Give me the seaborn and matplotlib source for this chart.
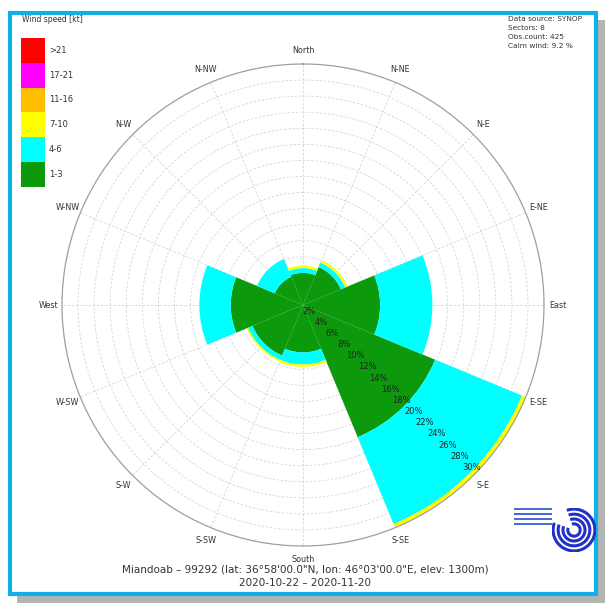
import numpy as np
import pandas as pd
import matplotlib
matplotlib.use("Agg")
import matplotlib.pyplot as plt
from matplotlib.patches import Rectangle, Arc
import seaborn as sns

# ---- data ----
directions = ["N", "NE", "E", "SE", "S", "SW", "W", "NW"]
dir_angles = [0, 45, 90, 135, 180, 225, 270, 315]
speed_labels = ["1-3", "4-6", "7-10", "11-16", "17-21", ">21"]
speed_colors = ["#0c990c", "#00ffff", "#ffff00", "#ffbf00", "#ff00ff", "#ff0000"]
s_1_3 = [4.0, 5.1, 9.6, 17.8, 5.9, 6.8, 9.0, 3.8]
s_4_6 = [0.6, 0.6, 6.5, 11.7, 1.5, 0.6, 3.9, 2.4]
s_7_10 = [0.3, 0.3, 0.0, 0.5, 0.3, 0.2, 0.0, 0.0]
s_11_16 = [0, 0, 0, 0, 0, 0, 0, 0]
s_17_21 = [0, 0, 0, 0, 0, 0, 0, 0]
s_gt21 = [0, 0, 0, 0, 0, 0, 0, 0]
compass_labels = ["North", "N-NE", "N-E", "E-NE", "East", "E-SE", "S-E", "S-SE",
                  "South", "S-SW", "S-W", "W-SW", "West", "W-NW", "N-W", "N-NW"]
radial_ticks = [2, 4, 6, 8, 10, 12, 14, 16, 18, 20, 22, 24, 26, 28, 30]
info_lines = ["Data source: SYNOP", "Sectors: 8", "Obs.count: 425", "Calm wind: 9.2 %"]
station_line = "Miandoab \u2013 99292 (lat: 36\u00b058'00.0\"N, lon: 46\u00b003'00.0\"E, elev: 1300m)"
period_line = "2020-10-22 \u2013 2020-11-20"

df = pd.DataFrame({"dir": directions, "angle": dir_angles,
                   speed_labels[0]: s_1_3, speed_labels[1]: s_4_6, speed_labels[2]: s_7_10,
                   speed_labels[3]: s_11_16, speed_labels[4]: s_17_21, speed_labels[5]: s_gt21})

sns.set_style("white")
plt.rcParams['font.family'] = ['DejaVu Sans']

W, H = 605, 603
fig = plt.figure(figsize=(W / 100, H / 100), dpi=100)
fig.patch.set_facecolor("white")

def fx(px):
    return px / W

def fy(py):
    return 1 - py / H

# frame with shadow
fig.patches.append(Rectangle((fx(17), fy(603)), fx(605) - fx(17), fy(20) - fy(603),
                             transform=fig.transFigure, facecolor="#b4b4b4", edgecolor="none", zorder=-3))
fig.patches.append(Rectangle((fx(10), fy(594)), fx(596) - fx(10), fy(13) - fy(594),
                             transform=fig.transFigure, facecolor="white", edgecolor="#14aee6",
                             linewidth=3.0, zorder=-2))

# polar axes
cx, cy, R = 303, 305, 241
ax = fig.add_axes([fx(cx - R), fy(cy + R), 2 * R / W, 2 * R / H], projection="polar")
ax.set_zorder(1)
ax.set_theta_zero_location("N")
ax.set_theta_direction(-1)
ax.set_ylim(0, 30)
ax.set_facecolor("none")

width = np.deg2rad(45)
theta = np.deg2rad(df["angle"].values)
bottom = np.zeros(len(df))
for lab, col in zip(speed_labels, speed_colors):
    vals = df[lab].values.astype(float)
    ax.bar(theta, vals, width=width, bottom=bottom, color=col, edgecolor="none",
           align="center", zorder=2)
    bottom += vals

ax.set_yticks(radial_ticks)
ax.set_yticklabels([])
ax.set_xticks(np.deg2rad(np.arange(0, 360, 22.5)))
ax.set_xticklabels([])
ax.grid(True, color="#d6d6d6", linewidth=0.6, linestyle=(0, (3, 2)), zorder=1)
ax.set_axisbelow(True)
ax.spines["polar"].set_color("#a0a0a0")
ax.spines["polar"].set_linewidth(0.9)

# radial labels
for v in radial_ticks:
    ax.text(np.deg2rad(134), v - 0.9, f"{v}%", fontsize=6, ha="center", va="center",
            color="#222222", zorder=5)

# compass labels
for i, lab in enumerate(compass_labels):
    ax.text(np.deg2rad(i * 22.5), 31.7, lab, fontsize=5.8, ha="center", va="center",
            color="#333333", clip_on=False)

# legend
fig.text(fx(22), fy(20), "Wind speed [kt]", fontsize=5.5, ha="left", va="center", color="#333333")
box_top, box_h = 38, 24.8
for i, (lab, col) in enumerate(zip(speed_labels[::-1], speed_colors[::-1])):
    y0 = box_top + i * box_h
    fig.patches.append(Rectangle((fx(21), fy(y0 + box_h)), fx(45) - fx(21), box_h / H,
                                 transform=fig.transFigure, facecolor=col, edgecolor="none", zorder=3))
    fig.text(fx(49), fy(y0 + box_h / 2), lab, fontsize=6, ha="left", va="center", color="#333333")

# info text
for i, line in enumerate(info_lines):
    fig.text(fx(508), fy(19 + 9 * i), line, fontsize=5.3, ha="left", va="center", color="#333333")

# bottom text
fig.text(fx(305), fy(569), station_line, fontsize=7.5, ha="center", va="center", color="#333333")
fig.text(fx(305), fy(583), period_line, fontsize=7.5, ha="center", va="center", color="#333333")

# logo (approximation)
lax = fig.add_axes([fx(552), fy(552), 44 / W, 44 / H])
lax.set_zorder(2)
lax.set_xlim(-1, 1)
lax.set_ylim(-1, 1)
lax.set_aspect("equal")
lax.axis("off")
for r in [0.95, 0.72, 0.5, 0.28]:
    lax.add_patch(Arc((0, 0), 2 * r, 2 * r, theta1=-200, theta2=110, color="#2030c8", lw=2.2))
for i in range(4):
    fig.patches.append(Rectangle((fx(514), fy(510 + 5 * i)), 38 / W, 2 / H,
                                 transform=fig.transFigure, facecolor="#4a6ad8", edgecolor="none", zorder=3))

fig.savefig("out.png", dpi=100)
